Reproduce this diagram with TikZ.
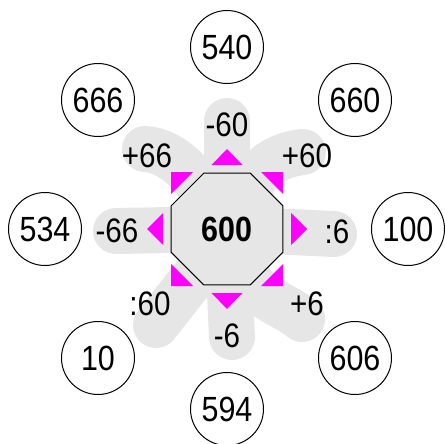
\documentclass[tikz,border=0pt]{standalone}
\usepackage{fontspec}
\setmainfont{Liberation Sans}[FakeStretch=0.87]
\usetikzlibrary{shapes.geometric}
\definecolor{petalgray}{HTML}{E6E6E6}
\definecolor{mag}{HTML}{FF00FF}
\begin{document}
\begin{tikzpicture}[x=1pt,y=-1pt,
  petal/.style={draw=petalgray,line width=46pt,line cap=round,line join=round},
  numcircle/.style={circle,draw=black,line width=1pt,minimum size=73pt,inner sep=0pt,font=\fontsize{35}{35}\selectfont},
  oplabel/.style={inner sep=0pt,font=\fontsize{34}{34}\selectfont},
  arrowtri/.style={fill=mag,draw=none}]
\path[use as bounding box] (0,0) rectangle (445,444);
% petals
\draw[petal] (227,229) -- (227,121);
\draw[petal] (240,215) .. controls (250,170) and (275,155) .. (303,152);
\draw[petal] (212,215) .. controls (200,175) and (170,150) .. (145,149);
\draw[petal] (227,229) -- (116,231);
\draw[petal] (227,229) -- (334,234);
\draw[petal] (235,240) .. controls (245,300) and (280,300) .. (302,319);
\draw[petal] (215,250) -- (156,325);
\draw[petal] (227,229) -- (232,337);
% center
\node[regular polygon,regular polygon sides=8,minimum size=121pt,inner sep=0pt,
  draw=black,line width=1pt,fill=petalgray,font=\fontsize{35}{35}\selectfont\bfseries] (O) at (227,229) {600};
% triangles
\fill[arrowtri] (227,149) -- (242.5,165) -- (211.5,165) -- cycle;
\fill[arrowtri] (227,309) -- (242.5,293) -- (211.5,293) -- cycle;
\fill[arrowtri] (147,229) -- (163,213) -- (163,245) -- cycle;
\fill[arrowtri] (307,229) -- (291,213) -- (291,245) -- cycle;
\fill[arrowtri] (171,172) -- (193,172) -- (171,194) -- cycle;
\fill[arrowtri] (283,172) -- (261,172) -- (283,194) -- cycle;
\fill[arrowtri] (283,286) -- (261,286) -- (283,264) -- cycle;
\fill[arrowtri] (171,286) -- (193,286) -- (171,264) -- cycle;
% labels
\node[oplabel] (lm60) at (227,125) {-60};
\node[oplabel] (lp66) at (147,156) {+66};
\node[oplabel] (lp60) at (307,156) {+60};
\node[oplabel] (lm66) at (117,231) {-66};
\node[oplabel] (ld6) at (337,232) {:6};
\node[oplabel] (ld60) at (150,304) {:60};
\node[oplabel] (lp6) at (307,304) {+6};
\node[oplabel] (lm6) at (227,336) {-6};
% outer circles
\node[numcircle] (n540) at (227,47) {540};
\node[numcircle] (n666) at (98,100) {666};
\node[numcircle] (n660) at (355,100) {660};
\node[numcircle] (n534) at (45,229) {534};
\node[numcircle] (n100) at (408,229) {100};
\node[numcircle] (n10) at (98,358) {10};
\node[numcircle] (n606) at (355,358) {606};
\node[numcircle] (n594) at (227,409) {594};
\end{tikzpicture}
\end{document}
